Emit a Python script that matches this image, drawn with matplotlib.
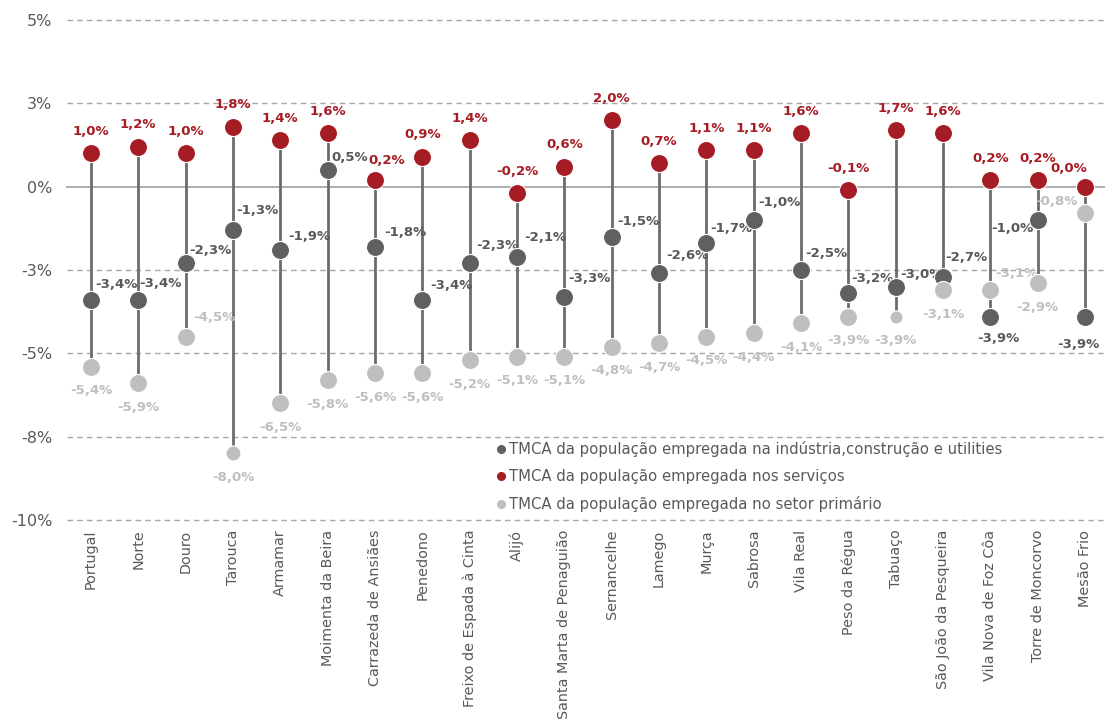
import matplotlib
matplotlib.use("Agg")
import matplotlib.pyplot as plt
from matplotlib.lines import Line2D
import numpy as np

categories = ["Portugal", "Norte", "Douro", "Tarouca", "Armamar", "Moimenta da Beira",
              "Carrazeda de Ansiães", "Penedono", "Freixo de Espada à Cinta", "Alijó",
              "Santa Marta de Penaguião", "Sernancelhe", "Lamego", "Murça", "Sabrosa",
              "Vila Real", "Peso da Régua", "Tabuaço", "São João da Pesqueira",
              "Vila Nova de Foz Côa", "Torre de Moncorvo", "Mesão Frio"]

industria = [-3.4, -3.4, -2.3, -1.3, -1.9, 0.5, -1.8, -3.4, -2.3, -2.1, -3.3,
             -1.5, -2.6, -1.7, -1.0, -2.5, -3.2, -3.0, -2.7, -3.9, -1.0, -3.9]
servicos = [1.0, 1.2, 1.0, 1.8, 1.4, 1.6, 0.2, 0.9, 1.4, -0.2, 0.6,
            2.0, 0.7, 1.1, 1.1, 1.6, -0.1, 1.7, 1.6, 0.2, 0.2, 0.0]
primario = [-5.4, -5.9, -4.5, -8.0, -6.5, -5.8, -5.6, -5.6, -5.2, -5.1, -5.1,
            -4.8, -4.7, -4.5, -4.4, -4.1, -3.9, -3.9, -3.1, -3.1, -2.9, -0.8]

series_names = ["TMCA da população empregada na indústria,construção e utilities",
                "TMCA da população empregada nos serviços",
                "TMCA da população empregada no setor primário"]

ytick_values = [-10, -7.5, -5, -2.5, 0, 2.5, 5]
ytick_labels = ["-10%", "-8%", "-5%", "-3%", "0%", "3%", "5%"]

# ---- styling ----
c_dark = "#5f6061"
c_red = "#a61c24"
c_light = "#bfbfbf"
c_text = "#595959"
c_line = "#6b6b6b"

# label offsets in pixels (dx, dy up)
dark_dx = [25, 22, 25, 24, 29, 22, 30, 29, 28, 28, 25, 27, 28, 25, 26, 25, 24, 26, 23, 8, -25, -7]
dark_dy = [16, 17, 13, 19, 14, 13, 14, 15, 18, 19, 18, 15, 18, 15, 18, 17, 15, 12, 19, -22, -8, -28]
red_off = {6: (12, 20), 21: (-16, 18)}
light_off = {2: (29, 19), 19: (26, 17), 21: (-29, 12)}
light_ms = {3: 10.8, 17: 9.4}

fig = plt.figure(figsize=(11.05, 7.27), dpi=100)
W, H = 1105, 727
ax = fig.add_axes([67.3 / W, (H - 520) / H, (1108.7 - 67.3) / W, 500 / H])

x = np.arange(len(categories))
ax.set_xlim(-0.5, len(categories) - 0.5)
ax.set_ylim(-10, 5)

# grid
for v in ytick_values:
    if v == 0:
        ax.axhline(v, color="#a6a6a6", lw=1.3, zorder=1, clip_on=False)
    else:
        ax.axhline(v, color="#a6a6a6", lw=1.0, ls=(0, (4, 3)), zorder=1, clip_on=False)

# vertical range lines
for i in x:
    vals = [industria[i], servicos[i], primario[i]]
    ax.plot([i, i], [min(vals), max(vals)], color=c_line, lw=2, zorder=2, solid_capstyle="butt")

# markers
ax.plot(x, industria, ls="none", marker="o", ms=13, mfc=c_dark, mec="white", mew=0.8, zorder=5)
ax.plot(x, servicos, ls="none", marker="o", ms=13, mfc=c_red, mec="white", mew=0.8, zorder=5)
for i in x:
    ax.plot(i, primario[i], ls="none", marker="o", ms=light_ms.get(i, 13), mfc=c_light,
            mec="white", mew=0.8, zorder=6)

def fmt(v):
    return f"{v:.1f}".replace(".", ",") + "%"

fs_lab = 9.5
for i in x:
    ax.annotate(fmt(industria[i]), (i, industria[i]), xytext=(dark_dx[i], dark_dy[i]),
                textcoords="offset pixels", ha="center", va="center", fontsize=fs_lab,
                fontweight="bold", color=c_text, zorder=4)
    dx, dy = red_off.get(i, (0, 22))
    ax.annotate(fmt(servicos[i]), (i, servicos[i]), xytext=(dx, dy),
                textcoords="offset pixels", ha="center", va="center", fontsize=fs_lab,
                fontweight="bold", color=c_red, zorder=4)
    dx, dy = light_off.get(i, (0, -24))
    ax.annotate(fmt(primario[i]), (i, primario[i]), xytext=(dx, dy),
                textcoords="offset pixels", ha="center", va="center", fontsize=fs_lab,
                fontweight="bold", color=c_light, zorder=4)

ax.set_yticks(ytick_values)
ax.set_yticklabels(ytick_labels, fontsize=11.5, color=c_text)
ax.set_xticks(x)
ax.set_xticklabels(categories, rotation=90, fontsize=10.4, color=c_text)
ax.tick_params(axis="both", length=0)
ax.tick_params(axis="y", pad=10.8)
ax.tick_params(axis="x", pad=7)
for s in ax.spines.values():
    s.set_visible(False)

handles = [Line2D([], [], ls="none", marker="o", ms=5.5, mfc=c, mec=c)
           for c in (c_dark, c_red, c_light)]
leg = ax.legend(handles, series_names, loc="upper left",
                bbox_to_anchor=(497 / W, 1 - 441 / H), bbox_transform=fig.transFigure,
                frameon=False, fontsize=10.7, handlelength=0.55, handletextpad=0.28,
                borderpad=0, borderaxespad=0, labelspacing=0.8)
for t in leg.get_texts():
    t.set_color(c_text)

fig.savefig("out.png", dpi=100)
